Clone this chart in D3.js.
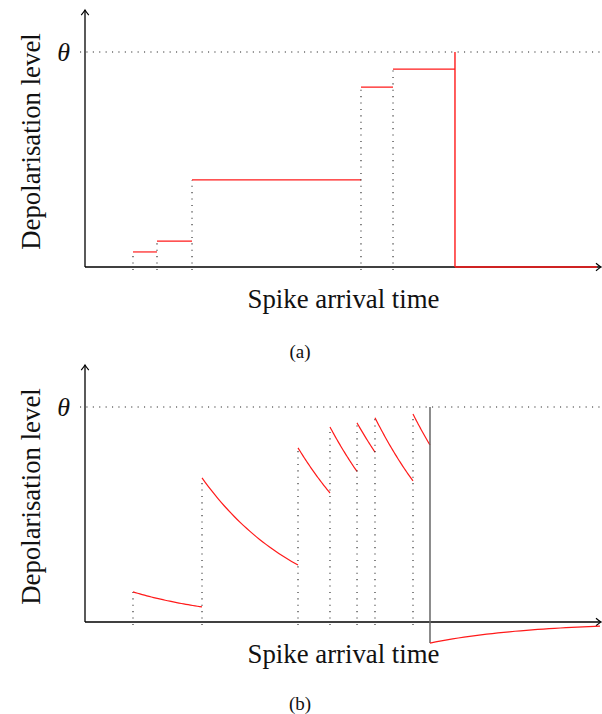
<!DOCTYPE html>
<html>
<head>
<meta charset="utf-8">
<script src="https://cdn.jsdelivr.net/npm/d3@7"></script>
<style>
  body { margin: 0; background: #fff; }
</style>
</head>
<body>
<div id="chart"></div>
<script>
// threshold level and time domain (arbitrary units)
const theta = 1;
const timeDomain = [0, 100];

// (a) non-leaky integration: spike times and level reached after each spike
const spikeTimesA = [9.32, 13.98, 20.78, 53.59, 59.81];
const levelsA = [0.07, 0.12, 0.405, 0.837, 0.92];
const fireTimeA = 71.84;

// (b) leaky integration: level just after each spike and just before the next one
const spikeTimesB = [9.32, 22.72, 41.36, 47.57, 52.82, 56.31, 63.69];
const startLevelsB = [0.14, 0.67, 0.81, 0.907, 0.926, 0.95, 0.967];
const endLevelsB = [0.07, 0.265, 0.60, 0.70, 0.79, 0.656, 0.823];
const fireTimeB = 66.99;
const resetLevelsB = [-0.098, -0.019];

const W = 602, H = 714;
const FONT = "'Liberation Serif', 'Times New Roman', Times, 'DejaVu Serif', serif";
const svg = d3.select('#chart').append('svg').attr('width', W).attr('height', H)
  .attr('font-family', FONT);
svg.append('rect').attr('width', W).attr('height', H).attr('fill', '#fff');

const x = d3.scaleLinear().domain(timeDomain).range([85, 600]);
const RED = '#ff1a1a';
const DOT = '1.1,5.3';

function arrow(g, x0, y0, dir) {
  // tikz-like "to" arrow head, dir: 'right' or 'up'
  const p = dir === 'right'
    ? `M${x0 - 5},${y0 - 3.8} Q${x0 - 1.5},${y0 - 0.8} ${x0},${y0} Q${x0 - 1.5},${y0 + 0.8} ${x0 - 5},${y0 + 3.8}`
    : `M${x0 - 3.8},${y0 + 5} Q${x0 - 0.8},${y0 + 1.5} ${x0},${y0} Q${x0 + 0.8},${y0 + 1.5} ${x0 + 3.8},${y0 + 5}`;
  g.append('path').attr('d', p).attr('fill', 'none').attr('stroke', '#000').attr('stroke-width', 1.2);
}

function txt(g) {
  return g.append('text').attr('font-family', FONT).attr('fill', '#111');
}

function frame(y, xLabelY, caption, captionY) {
  const g = svg.append('g');
  // threshold
  g.append('line').attr('x1', 80).attr('x2', 600)
    .attr('y1', y(theta)).attr('y2', y(theta))
    .attr('stroke', '#222').attr('stroke-width', 1.1).attr('stroke-dasharray', DOT);
  txt(g).attr('x', 70).attr('y', y(theta) + 9)
    .attr('text-anchor', 'end').attr('font-size', 26).attr('font-style', 'italic')
    .text('θ');
  // axes
  g.append('line').attr('x1', x(0)).attr('x2', 600).attr('y1', y(0)).attr('y2', y(0))
    .attr('stroke', '#000').attr('stroke-width', 1.3);
  g.append('line').attr('x1', x(0)).attr('x2', x(0)).attr('y1', y(0)).attr('y2', y(1.195))
    .attr('stroke', '#000').attr('stroke-width', 1.3);
  arrow(g, 601, y(0), 'right');
  arrow(g, x(0), y(1.195), 'up');
  // labels
  txt(g).attr('transform', `translate(40,${(y(0) + y(1.195)) / 2 + 3}) rotate(-90)`)
    .attr('text-anchor', 'middle').attr('font-size', 26.8).text('Depolarisation level');
  txt(g).attr('x', (x(0) + 600) / 2 + 1).attr('y', xLabelY)
    .attr('text-anchor', 'middle').attr('font-size', 26.8).text('Spike arrival time');
  txt(g).attr('x', 300).attr('y', captionY)
    .attr('text-anchor', 'middle').attr('font-size', 19).text(caption);
  return g;
}

function dotted(g, y, t, level) {
  g.append('line').attr('x1', x(t)).attr('x2', x(t))
    .attr('y1', y(0) + 3).attr('y2', y(level))
    .attr('stroke', '#222').attr('stroke-width', 1.1).attr('stroke-dasharray', DOT);
}

// ---------- (a) ----------
const yA = d3.scaleLinear().domain([0, 1]).range([267, 52]);
const gA = frame(yA, 308, '(a)', 358);
spikeTimesA.forEach((t, i) => {
  dotted(gA, yA, t, levelsA[i]);
  const tEnd = i < spikeTimesA.length - 1 ? spikeTimesA[i + 1] : fireTimeA;
  gA.append('line').attr('x1', x(t)).attr('x2', x(tEnd))
    .attr('y1', yA(levelsA[i])).attr('y2', yA(levelsA[i]))
    .attr('stroke', RED).attr('stroke-width', 1.2);
});
gA.append('line').attr('x1', x(fireTimeA)).attr('x2', x(fireTimeA))
  .attr('y1', yA(theta)).attr('y2', yA(0))
  .attr('stroke', RED).attr('stroke-width', 1.4);
gA.append('line').attr('x1', x(fireTimeA)).attr('x2', 597)
  .attr('y1', yA(0)).attr('y2', yA(0))
  .attr('stroke', RED).attr('stroke-width', 1.3);

// ---------- (b) ----------
const yB = d3.scaleLinear().domain([0, 1]).range([622, 407]);
const gB = frame(yB, 663, '(b)', 710);
const line = d3.line().x(d => x(d[0])).y(d => yB(d[1]));

// exponential decay drawn between the two read levels of a segment
function decay(t0, t1, v0, v1) {
  return d3.range(0, 31).map(k => {
    const f = k / 30;
    return [t0 + (t1 - t0) * f, v0 * Math.pow(v1 / v0, f)];
  });
}

spikeTimesB.forEach((t, i) => {
  dotted(gB, yB, t, startLevelsB[i]);
  const tEnd = i < spikeTimesB.length - 1 ? spikeTimesB[i + 1] : fireTimeB;
  gB.append('path').attr('d', line(decay(t, tEnd, startLevelsB[i], endLevelsB[i])))
    .attr('fill', 'none').attr('stroke', RED).attr('stroke-width', 1.2);
});
gB.append('line').attr('x1', x(fireTimeB)).attr('x2', x(fireTimeB))
  .attr('y1', yB(theta)).attr('y2', yB(resetLevelsB[0]))
  .attr('stroke', '#666').attr('stroke-width', 1.5);
gB.append('path').attr('d', line(decay(fireTimeB, timeDomain[1], resetLevelsB[0], resetLevelsB[1])))
  .attr('fill', 'none').attr('stroke', RED).attr('stroke-width', 1.2);
</script>
</body>
</html>
